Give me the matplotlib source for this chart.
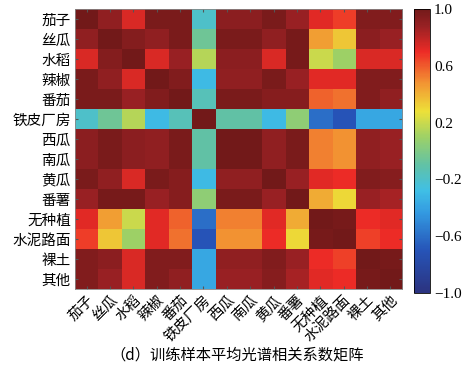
import numpy as np
import matplotlib
matplotlib.use('Agg')
import matplotlib.pyplot as plt
from matplotlib.colors import LinearSegmentedColormap

plt.rcParams['font.family'] = ['Noto Sans CJK SC', 'DejaVu Sans']

labels = ['茄子', '丝瓜', '水稻', '辣椒', '番茄', '铁皮厂房', '西瓜', '南瓜',
          '黄瓜', '番薯', '无种植', '水泥路面', '裸土', '其他']

r_qiezi = [1.00, 0.90, 0.74, 0.97, 0.97, -0.20, 0.92, 0.92, 0.97, 0.88, 0.72, 0.66, 0.95, 0.95]
r_sigua = [0.90, 1.00, 0.94, 0.90, 0.97, -0.05, 0.97, 0.97, 0.90, 0.98, 0.45, 0.35, 0.92, 0.88]
r_shuidao = [0.74, 0.94, 1.00, 0.74, 0.88, 0.15, 0.92, 0.92, 0.74, 0.98, 0.20, 0.10, 0.74, 0.74]
r_lajiao = [0.97, 0.90, 0.74, 1.00, 0.95, -0.30, 0.90, 0.90, 0.97, 0.88, 0.72, 0.72, 0.95, 0.95]
r_fanqie = [0.97, 0.97, 0.88, 0.95, 1.00, -0.15, 0.97, 0.97, 0.93, 0.93, 0.58, 0.55, 0.95, 0.90]
r_tiepi = [-0.20, -0.05, 0.15, -0.30, -0.15, 1.00, -0.10, -0.10, -0.30, 0.05, -0.60, -0.70, -0.38, -0.38]
r_xigua = [0.92, 0.97, 0.92, 0.90, 0.97, -0.10, 1.00, 1.00, 0.90, 0.97, 0.52, 0.48, 0.90, 0.88]
r_nangua = [0.92, 0.97, 0.92, 0.90, 0.97, -0.10, 1.00, 1.00, 0.90, 0.97, 0.52, 0.48, 0.90, 0.88]
r_huanggua = [0.97, 0.90, 0.74, 0.97, 0.93, -0.30, 0.90, 0.90, 1.00, 0.88, 0.72, 0.70, 0.95, 0.93]
r_fanshu = [0.88, 0.98, 0.98, 0.88, 0.93, 0.05, 0.97, 0.97, 0.88, 1.00, 0.42, 0.30, 0.88, 0.85]
r_wuzhongzhi = [0.72, 0.45, 0.20, 0.72, 0.58, -0.60, 0.52, 0.52, 0.72, 0.42, 1.00, 0.98, 0.70, 0.72]
r_shuini = [0.66, 0.35, 0.10, 0.72, 0.55, -0.70, 0.48, 0.48, 0.70, 0.30, 0.98, 1.00, 0.65, 0.70]
r_luotu = [0.95, 0.92, 0.74, 0.95, 0.95, -0.38, 0.90, 0.90, 0.95, 0.88, 0.70, 0.65, 1.00, 0.98]
r_qita = [0.95, 0.88, 0.74, 0.95, 0.90, -0.38, 0.88, 0.88, 0.93, 0.85, 0.72, 0.70, 0.98, 1.00]

corr = np.array([r_qiezi, r_sigua, r_shuidao, r_lajiao, r_fanqie, r_tiepi, r_xigua,
                 r_nangua, r_huanggua, r_fanshu, r_wuzhongzhi, r_shuini, r_luotu, r_qita])

# muted jet, like the printed figure
cmap = LinearSegmentedColormap.from_list('pjet', [
    (0.00, (0.17, 0.20, 0.50)),
    (0.15, (0.15, 0.33, 0.72)),
    (0.28, (0.20, 0.60, 0.88)),
    (0.36, (0.25, 0.75, 0.90)),
    (0.45, (0.38, 0.76, 0.65)),
    (0.55, (0.62, 0.82, 0.40)),
    (0.64, (0.93, 0.88, 0.22)),
    (0.74, (0.95, 0.58, 0.20)),
    (0.85, (0.93, 0.17, 0.15)),
    (0.94, (0.60, 0.13, 0.14)),
    (1.00, (0.45, 0.10, 0.10)),
])

fig = plt.figure(figsize=(4.74, 3.81), dpi=100)
ax = fig.add_axes([75 / 474, 1 - 289 / 381, 327 / 474, 280 / 381])
im = ax.imshow(corr, cmap=cmap, vmin=-1, vmax=1, aspect='auto', interpolation='nearest')

n = len(labels)
ax.set_xticks(range(n))
ax.set_yticks(range(n))
ax.set_xticklabels(labels, rotation=45, ha='right', rotation_mode='anchor', fontsize=10.5)
ax.set_yticklabels(labels, fontsize=10.5)
ax.tick_params(direction='in', length=2, color='#555555', top=True, right=True, pad=3)
for s in ax.spines.values():
    s.set_color('#888888')
    s.set_linewidth(0.6)

cax = fig.add_axes([414 / 474, 1 - 293 / 381, 16 / 474, 284 / 381])
cb = fig.colorbar(im, cax=cax, ticks=[1.0, 0.6, 0.2, -0.2, -0.6, -1.0])
cb.ax.set_yticklabels(['1.0', '0.6', '0.2', '\u22120.2', '\u22120.6', '\u22121.0'],
                      family=['Liberation Serif'], fontsize=11)
cb.ax.tick_params(length=0, pad=3)
cb.outline.set_linewidth(0.6)

fig.text(237 / 474, 1 - 355 / 381, '（d）训练样本平均光谱相关系数矩阵', ha='center', va='center', fontsize=11)

fig.savefig('out.png', dpi=100)
